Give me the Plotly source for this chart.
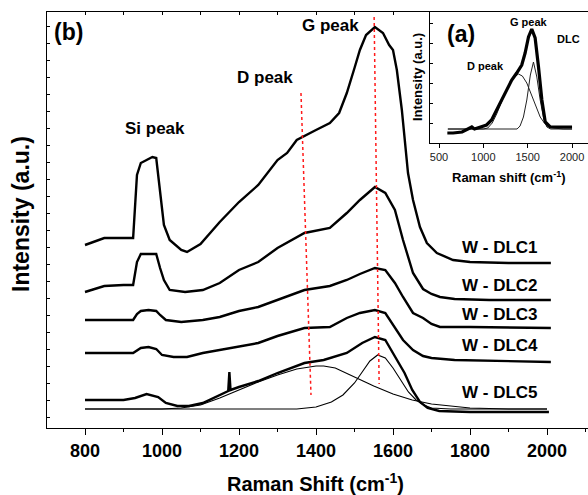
import plotly.graph_objects as go

# ---------------- Main panel (b): Raman spectra of W-DLC films (stacked, a.u.) ----------------
dlc1_shift = [800, 850, 900, 925, 935, 945, 960, 975, 985, 995, 1005, 1020, 1050, 1065, 1100,
              1150, 1200, 1250, 1300, 1325, 1350, 1400, 1436, 1460, 1480, 1500, 1514, 1530,
              1553, 1574, 1590, 1600, 1610, 1623, 1631, 1639, 1652, 1670, 1688, 1714, 1756,
              1800, 1900, 2010]
dlc1_int = [183, 190, 190, 190, 253, 265, 268, 271, 270, 233, 203, 188, 178, 176, 184,
            206, 226, 243, 268, 275, 288, 298, 305, 315, 335, 360, 378, 393,
            401, 395, 383, 378, 358, 318, 288, 255, 228, 201, 185, 175, 168,
            166, 165, 165]

dlc2_shift = [800, 850, 900, 925, 935, 945, 965, 985, 995, 1005, 1020, 1060, 1106, 1150, 1200,
              1250, 1300, 1370, 1436, 1480, 1514, 1553, 1580, 1605, 1626, 1652, 1678, 1700,
              1722, 1760, 1850, 2010]
dlc2_int = [136, 142, 143, 143, 166, 174, 174, 174, 160, 148, 138, 136, 138, 145, 158,
            166, 180, 195, 200, 215, 228, 241, 235, 218, 188, 155, 139, 134,
            131, 129, 128, 128]

dlc3_shift = [800, 900, 925, 935, 945, 965, 985, 995, 1010, 1050, 1106, 1150, 1200, 1250, 1300,
              1370, 1436, 1480, 1514, 1553, 1580, 1605, 1626, 1652, 1678, 1700, 1722, 1800, 2010]
dlc3_int = [108, 108, 108, 114, 117, 118, 117, 113, 108, 106, 108, 111, 117, 121, 128,
            138, 142, 148, 154, 160, 158, 145, 131, 115, 110, 104, 101, 101, 100]

dlc4_shift = [800, 900, 925, 945, 965, 985, 1000, 1030, 1065, 1106, 1150, 1200, 1250, 1300,
              1370, 1436, 1480, 1514, 1553, 1580, 1605, 1626, 1652, 1678, 1700, 1760, 2010]
dlc4_int = [75, 75, 75, 80, 81, 79, 73, 71, 71, 75, 78, 81, 85, 92,
            100, 101, 110, 115, 118, 115, 101, 88, 78, 72, 70, 68, 66]

dlc5_shift = [800, 850, 900, 930, 960, 990, 1010, 1040, 1070, 1106, 1150, 1172, 1175, 1178,
              1200, 1250, 1300, 1370, 1420, 1480, 1520, 1553, 1580, 1605, 1630, 1650, 1670,
              1690, 1720, 1800, 2005]
dlc5_int = [28, 28, 28, 30, 34, 31, 25, 22, 22, 25, 33, 37, 56, 38,
            41, 47, 55, 65, 68, 75, 85, 91, 88, 71, 55, 38, 26,
            20, 17, 16, 16]

# Fitted D and G bands of W-DLC5
dfit_shift = [800, 1000, 1050, 1100, 1150, 1200, 1250, 1300, 1350, 1400, 1420, 1450, 1500,
              1550, 1600, 1650, 1700, 1750, 1800, 1900, 2000]
dfit_int = [19, 19, 20, 23, 30, 38, 46, 53, 59, 62, 62, 60, 51, 42, 34, 28, 24, 22, 20, 19, 19]

gfit_shift = [800, 1350, 1400, 1440, 1470, 1500, 1520, 1540, 1560, 1580, 1600, 1620, 1640,
              1660, 1680, 1700, 1750, 2000]
gfit_int = [19, 19, 21, 26, 33, 45, 56, 67, 73, 70, 60, 48, 36, 28, 23, 20, 19, 19]

# Guide lines through the D and G band positions
d_guide_shift = [1361, 1387]
d_guide_int = [335, 33]
g_guide_shift = [1551, 1564]
g_guide_int = [411, 44]

series_labels = ["W - DLC1", "W - DLC2", "W - DLC3", "W - DLC4", "W - DLC5"]

# ---------------- Inset (a): reference DLC spectrum with D/G deconvolution ----------------
ref_shift = [594, 659, 760, 848, 870, 900, 961, 1036, 1093, 1150, 1206, 1263, 1320, 1376,
             1433, 1471, 1509, 1546, 1584, 1622, 1660, 1698, 1754, 1868, 2000]
ref_int = [10, 10, 11, 15, 16, 14, 16, 18, 23, 33, 43, 53, 63, 70,
           78, 90, 106, 114, 105, 76, 43, 21, 16, 16, 16]

ref_d_shift = [600, 1000, 1050, 1100, 1150, 1200, 1250, 1300, 1350, 1395, 1440, 1490, 1530,
               1565, 1600, 1641, 1680, 1716, 1792, 1900, 2000]
ref_d_int = [14, 14, 15, 20, 29, 40, 51, 60, 66, 69, 67, 60, 51, 43, 34, 26, 21, 17, 15, 14, 14]

ref_g_shift = [600, 1380, 1414, 1452, 1490, 1530, 1565, 1603, 1641, 1679, 1716, 1760, 2000]
ref_g_int = [14, 14, 17, 26, 43, 68, 81, 66, 43, 25, 16, 14, 14]

FONT = "Liberation Sans, Arial, Helvetica, sans-serif"

fig = go.Figure()

# fitted bands first so the measured spectrum sits on top of them
for xs, ys, name in [(dfit_shift, dfit_int, "D band fit"), (gfit_shift, gfit_int, "G band fit")]:
    fig.add_trace(go.Scatter(x=xs, y=ys, mode="lines", name=name,
                             line=dict(color="black", width=1.1),
                             xaxis="x", yaxis="y", hoverinfo="skip"))

spectra = [(dlc1_shift, dlc1_int), (dlc2_shift, dlc2_int), (dlc3_shift, dlc3_int),
           (dlc4_shift, dlc4_int), (dlc5_shift, dlc5_int)]

for (xs, ys), name in zip(spectra, series_labels):
    fig.add_trace(go.Scatter(x=xs, y=ys, mode="lines", name=name,
                             line=dict(color="black", width=2.4),
                             xaxis="x", yaxis="y", hoverinfo="skip"))

for xs, ys in [(d_guide_shift, d_guide_int), (g_guide_shift, g_guide_int)]:
    fig.add_trace(go.Scatter(x=xs, y=ys, mode="lines",
                             line=dict(color="#ff1a1a", width=1.5, dash="dot"),
                             xaxis="x3", yaxis="y", hoverinfo="skip"))

# inset traces
for xs, ys in [(ref_d_shift, ref_d_int), (ref_g_shift, ref_g_int)]:
    fig.add_trace(go.Scatter(x=xs, y=ys, mode="lines",
                             line=dict(color="#222222", width=1.0),
                             xaxis="x2", yaxis="y2", hoverinfo="skip"))
fig.add_trace(go.Scatter(x=ref_shift, y=ref_int, mode="lines",
                         line=dict(color="black", width=3.2),
                         xaxis="x2", yaxis="y2", hoverinfo="skip"))

# plot-area geometry (pixels) used to place text in paper coordinates
L, T, B = 47, 12, 428
W_AREA = 588 - L
H_AREA = B - T


def px_x(px):
    return (px - L) / W_AREA


def px_y(py):
    return (B - py) / H_AREA


X_MAIN = [701.3, 2106.5]
INSET_LEFT = 430
INSET_BOTTOM = 143

fig.update_layout(
    width=588, height=495,
    margin=dict(l=L, r=0, t=T, b=495 - B),
    paper_bgcolor="white", plot_bgcolor="white",
    showlegend=False,
    font=dict(family=FONT, color="black"),
    xaxis=dict(domain=[0, 1], range=X_MAIN, anchor="y",
               showline=True, linecolor="black", linewidth=1.3,
               ticks="outside", ticklen=6, tickwidth=1.3, tickcolor="black",
               tick0=800, dtick=200,
               minor=dict(dtick=100, ticks="outside", ticklen=3, tickwidth=1.1,
                          tickcolor="black", showgrid=False),
               tickfont=dict(size=18, family=FONT, weight="bold", color="black"),
               showgrid=False, zeroline=False),
    xaxis3=dict(overlaying="x", matches="x", side="top", anchor="y", range=X_MAIN,
                showline=True, linecolor="black", linewidth=1.3,
                ticks="inside", ticklen=3, tickwidth=1, tickcolor="black",
                tick0=800, dtick=100, showticklabels=False,
                showgrid=False, zeroline=False),
    yaxis=dict(domain=[0, 1], range=[0, 416], anchor="x",
               showline=True, linecolor="black", linewidth=1.3,
               ticks="inside", ticklen=3, tickwidth=1, tickcolor="black",
               tick0=385, dtick=17, showticklabels=False,
               showgrid=False, zeroline=False),
    xaxis2=dict(domain=[px_x(INSET_LEFT), 1], range=[398.5, 2180], anchor="y2",
                showline=True, linecolor="black", linewidth=1.2,
                ticks="outside", ticklen=4, tickwidth=1, tickcolor="black",
                tick0=500, dtick=500,
                tickfont=dict(size=11, family=FONT, color="#222222"),
                showgrid=False, zeroline=False),
    yaxis2=dict(domain=[px_y(INSET_BOTTOM), 1], range=[0, 131], anchor="x2",
                showline=True, linecolor="black", linewidth=1.2,
                ticks="inside", ticklen=3, tickwidth=1, tickcolor="black",
                tick0=0, dtick=20, showticklabels=False,
                showgrid=False, zeroline=False),
)


def label(text, px, py, size, bold=True, angle=0, color="black"):
    fig.add_annotation(text=text, x=px_x(px), y=px_y(py), xref="paper", yref="paper",
                       xanchor="center", yanchor="middle", showarrow=False, textangle=angle,
                       font=dict(size=size, family=FONT, color=color,
                                 weight="bold" if bold else "normal"))


# main panel text
label("(b)", 68, 32, 23)
label("Si peak", 155, 128, 17)
label("D peak", 265, 77, 17)
label("G peak", 330, 25, 17)
for name, py in zip(series_labels, [247, 285, 314, 345, 392]):
    label(name, 500, py, 17)
label("Raman Shift (cm<sup>-1</sup>)", 315, 482, 20)
label("Intensity (a.u.)", 21, 214, 23, angle=-90)

# inset text
label("(a)", 461, 34, 23)
label("G peak", 529, 22, 11)
label("D peak", 486, 66, 11)
label("DLC", 568, 39, 11)
label("Raman shift (cm<sup>-1</sup>)", 509, 177, 13)
label("Intensity (a.u.)", 417, 77, 13, angle=-90)

fig.write_html("out.html")
